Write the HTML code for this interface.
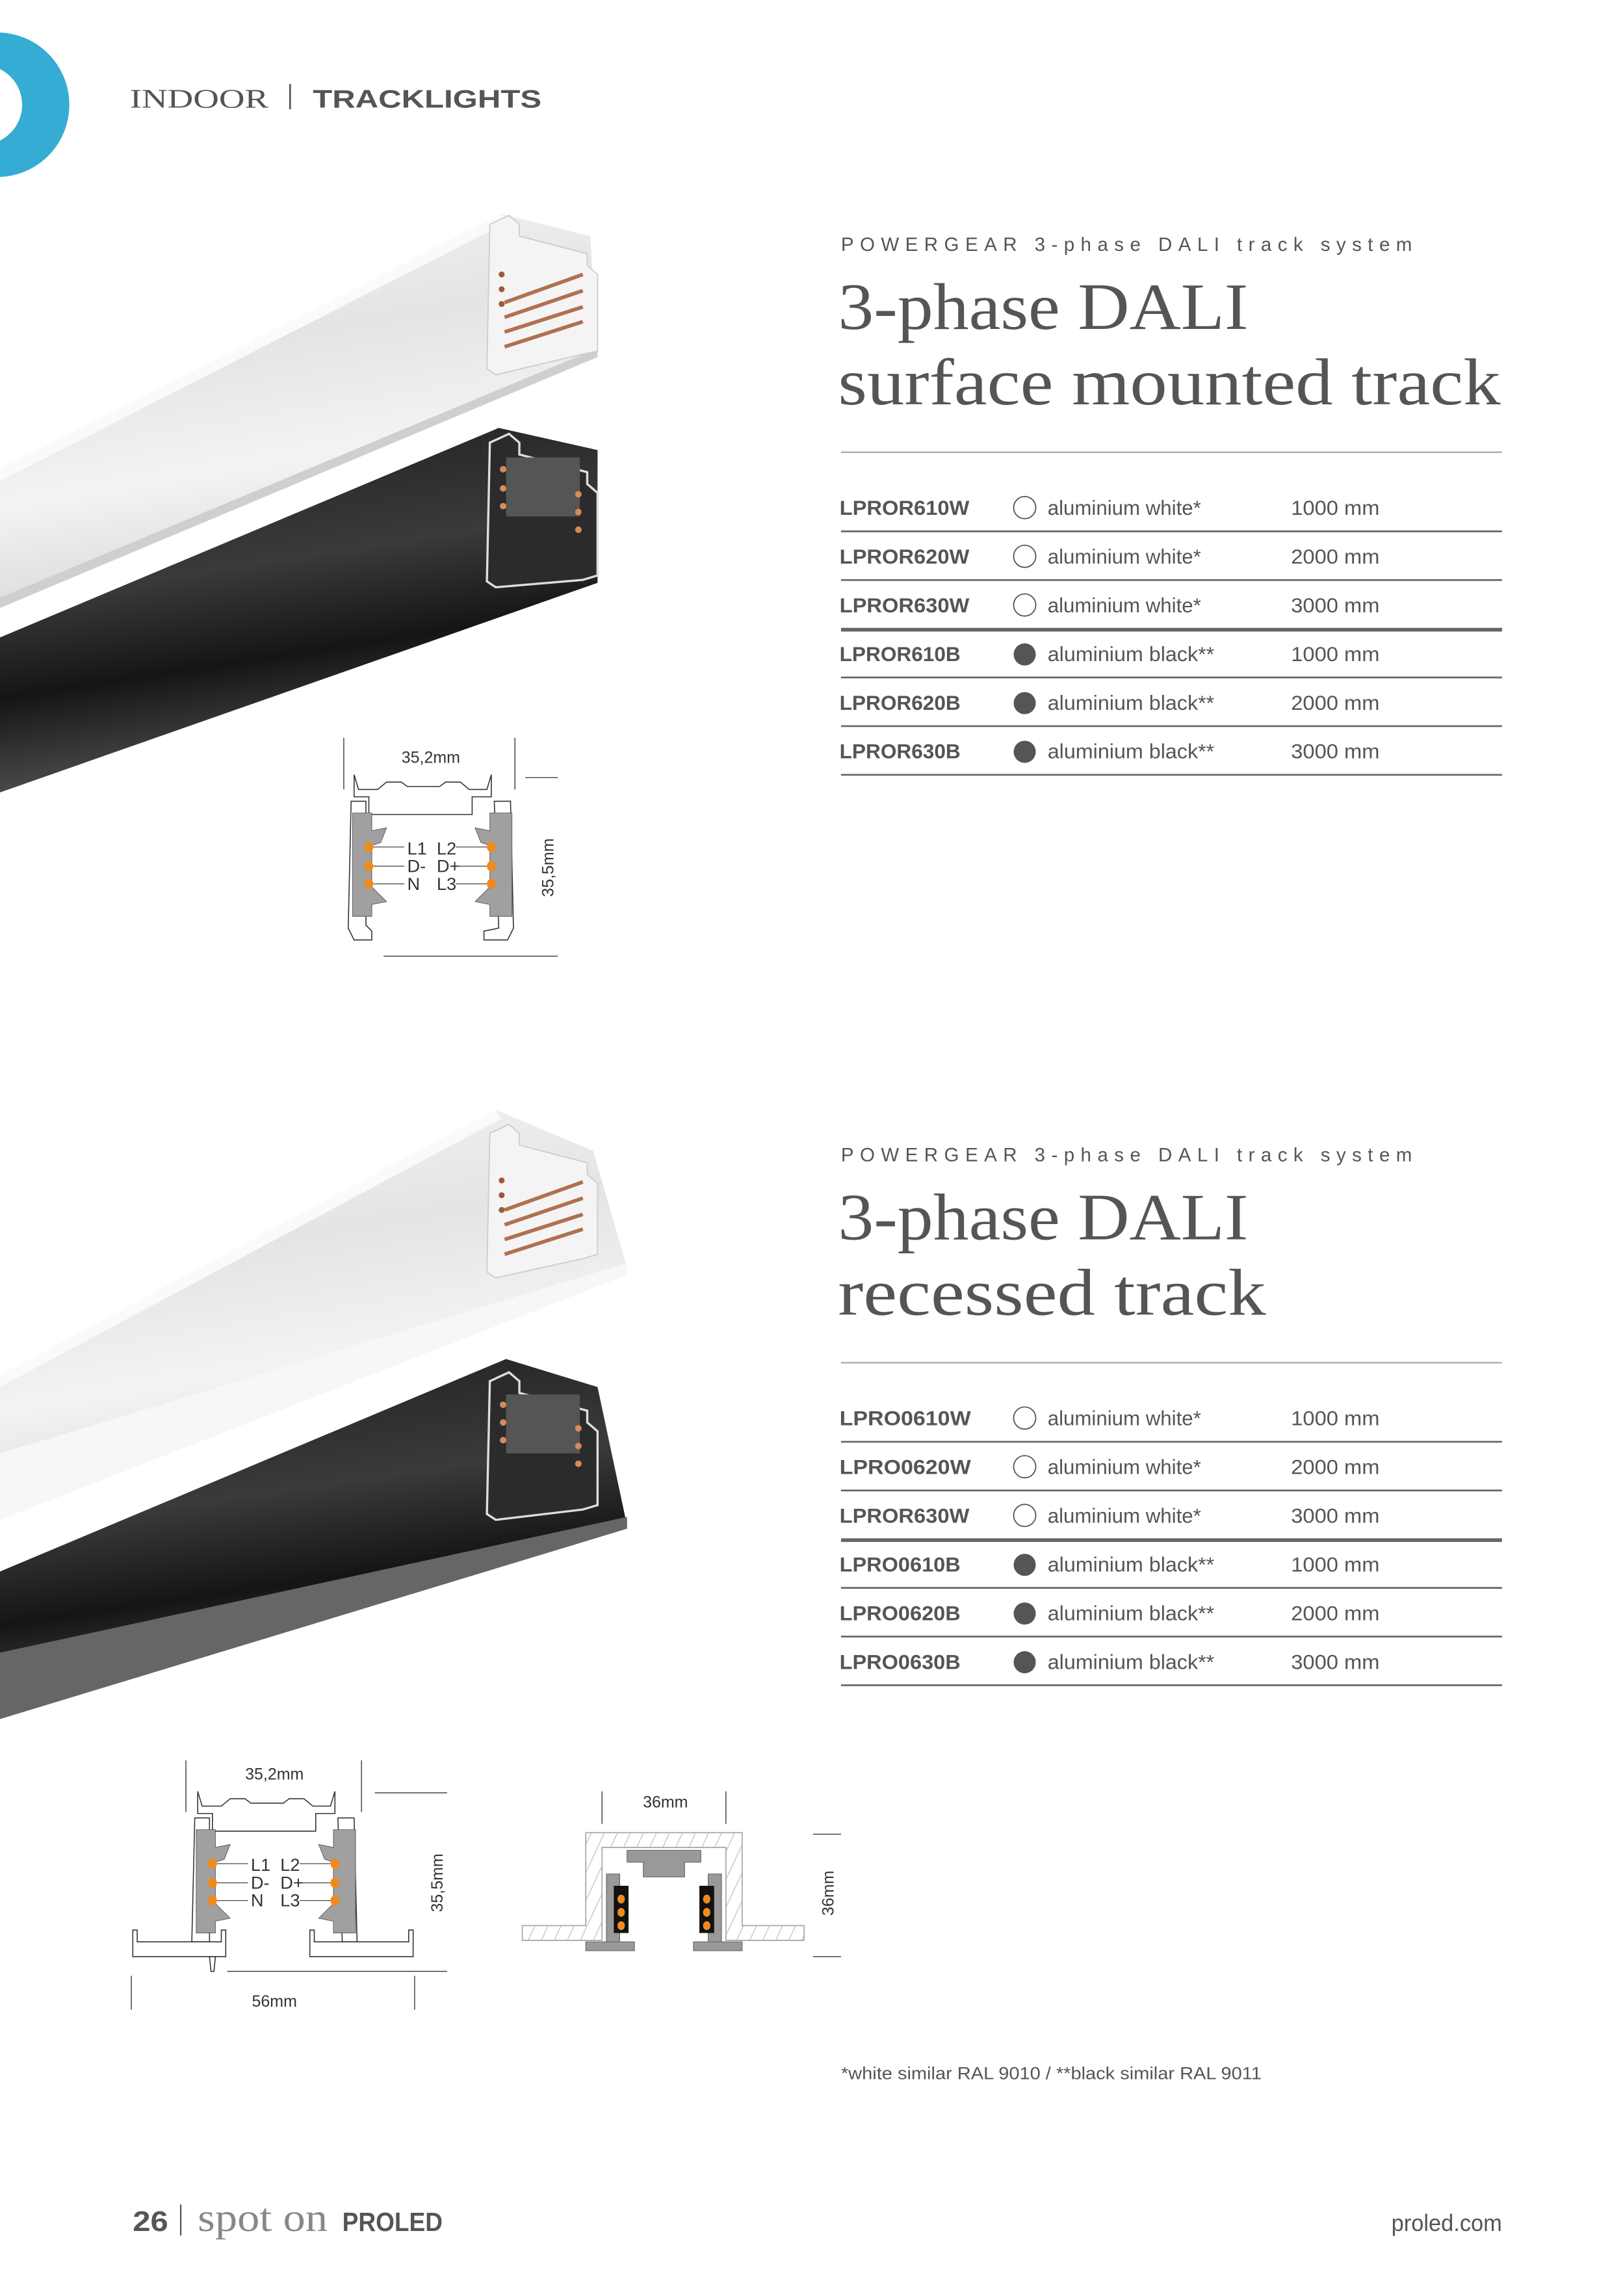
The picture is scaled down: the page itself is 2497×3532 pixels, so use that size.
<!DOCTYPE html>
<html><head><meta charset="utf-8"><style>
html,body{margin:0;padding:0;background:#fff;}
svg{display:block;}
</style></head><body>
<svg width="2497" height="3532" viewBox="0 0 1100 1556" preserveAspectRatio="none" xmlns="http://www.w3.org/2000/svg">
<defs>
<linearGradient id="wg" x1="0" y1="0" x2="0.25" y2="1">
<stop offset="0" stop-color="#f7f7f7"/><stop offset="0.4" stop-color="#e4e4e4"/><stop offset="0.7" stop-color="#f3f3f3"/><stop offset="1" stop-color="#d8d8d8"/></linearGradient>
<linearGradient id="bg" x1="0" y1="0" x2="0.25" y2="1">
<stop offset="0" stop-color="#1c1c1c"/><stop offset="0.45" stop-color="#3a3a3a"/><stop offset="0.7" stop-color="#151515"/><stop offset="1" stop-color="#555"/></linearGradient>
<pattern id="hatch" width="8" height="8" patternUnits="userSpaceOnUse" patternTransform="rotate(25)">
<rect width="8" height="8" fill="#fff"/><line x1="0" y1="0" x2="0" y2="8" stroke="#aaa" stroke-width="0.8"/></pattern>
</defs>

<!-- logo -->
<circle cx="-2" cy="71" r="49" fill="#35acd4"/>
<circle cx="-12" cy="71" r="27" fill="#fff"/>

<!-- header -->
<text x="88" y="73" font-family="Liberation Serif, serif" font-size="18" fill="#555" textLength="94" lengthAdjust="spacingAndGlyphs">INDOOR</text>
<rect x="196" y="57" width="1.2" height="17" fill="#555"/>
<text x="212" y="73" font-family="Liberation Sans, sans-serif" font-weight="bold" font-size="17" fill="#555" textLength="155" lengthAdjust="spacingAndGlyphs">TRACKLIGHTS</text>

<!-- ===== Section 1 tracks ===== -->
<polygon points="0,318 340,145 400,160 405,240 0,412" fill="url(#wg)"/>
<polygon points="0,318 340,145 345,150 0,326" fill="#fafafa"/>
<polygon points="0,405 405,236 405,242 0,412" fill="#cfcfcf"/>
<path d="M332,152 L345,146 L352,152 L352,160 L398,172 L398,180 L405,186 L405,238 L395,240 L336,254 L330,250 Z" fill="#f4f4f4" stroke="#ccc" stroke-width="0.8"/>
<g stroke="#b0714f" stroke-width="2.5"><line x1="342" y1="205" x2="395" y2="186"/><line x1="342" y1="215" x2="395" y2="197"/><line x1="342" y1="225" x2="395" y2="208"/><line x1="342" y1="235" x2="395" y2="218"/></g>
<g fill="#9a5a3a"><circle cx="340" cy="186" r="2"/><circle cx="340" cy="196" r="2"/><circle cx="340" cy="206" r="2"/></g>
<polygon points="0,432 338,290 405,305 405,395 0,537" fill="url(#bg)"/>
<path d="M332,300 L345,294 L352,300 L352,308 L398,320 L398,328 L405,334 L405,390 L395,393 L336,398 L330,394 Z" fill="#2b2b2b" stroke="#ddd" stroke-width="1.5"/>
<rect x="343" y="310" width="50" height="40" fill="#555"/>
<g fill="#d98a5a"><circle cx="341" cy="318" r="2.2"/><circle cx="341" cy="331" r="2.2"/><circle cx="341" cy="343" r="2.2"/><circle cx="392" cy="335" r="2.2"/><circle cx="392" cy="347" r="2.2"/><circle cx="392" cy="359" r="2.2"/></g>

<!-- ===== Section 1 text ===== -->
<text x="570" y="170" font-family="Liberation Sans, sans-serif" font-size="13" fill="#555" textLength="387" lengthAdjust="spacing">POWERGEAR 3-phase DALI track system</text>
<text x="568" y="223" font-family="Liberation Serif, serif" font-size="45" fill="#555" textLength="278" lengthAdjust="spacingAndGlyphs">3-phase DALI</text>
<text x="568" y="274" font-family="Liberation Serif, serif" font-size="45" fill="#555" textLength="449" lengthAdjust="spacingAndGlyphs">surface mounted track</text>
<rect x="570" y="306" width="448" height="1" fill="#aaa"/>

<g font-family="Liberation Sans, sans-serif" font-size="14" fill="#555">
<g font-weight="bold">
<text x="569" y="349" textLength="88" lengthAdjust="spacingAndGlyphs">LPROR610W</text>
<text x="569" y="382" textLength="88" lengthAdjust="spacingAndGlyphs">LPROR620W</text>
<text x="569" y="415" textLength="88" lengthAdjust="spacingAndGlyphs">LPROR630W</text>
<text x="569" y="448" textLength="82" lengthAdjust="spacingAndGlyphs">LPROR610B</text>
<text x="569" y="481" textLength="82" lengthAdjust="spacingAndGlyphs">LPROR620B</text>
<text x="569" y="514" textLength="82" lengthAdjust="spacingAndGlyphs">LPROR630B</text>
</g>
<text x="710" y="349" textLength="104" lengthAdjust="spacingAndGlyphs">aluminium white*</text>
<text x="710" y="382" textLength="104" lengthAdjust="spacingAndGlyphs">aluminium white*</text>
<text x="710" y="415" textLength="104" lengthAdjust="spacingAndGlyphs">aluminium white*</text>
<text x="710" y="448" textLength="113" lengthAdjust="spacingAndGlyphs">aluminium black**</text>
<text x="710" y="481" textLength="113" lengthAdjust="spacingAndGlyphs">aluminium black**</text>
<text x="710" y="514" textLength="113" lengthAdjust="spacingAndGlyphs">aluminium black**</text>
<text x="875" y="349" textLength="60" lengthAdjust="spacingAndGlyphs">1000 mm</text>
<text x="875" y="382" textLength="60" lengthAdjust="spacingAndGlyphs">2000 mm</text>
<text x="875" y="415" textLength="60" lengthAdjust="spacingAndGlyphs">3000 mm</text>
<text x="875" y="448" textLength="60" lengthAdjust="spacingAndGlyphs">1000 mm</text>
<text x="875" y="481" textLength="60" lengthAdjust="spacingAndGlyphs">2000 mm</text>
<text x="875" y="514" textLength="60" lengthAdjust="spacingAndGlyphs">3000 mm</text>
</g>
<g fill="none" stroke="#555" stroke-width="0.8"><circle cx="694.5" cy="344" r="7.5"/><circle cx="694.5" cy="377" r="7.5"/><circle cx="694.5" cy="410" r="7.5"/></g>
<g fill="#555"><circle cx="694.5" cy="443.5" r="7.5"/><circle cx="694.5" cy="476.5" r="7.5"/><circle cx="694.5" cy="509.5" r="7.5"/></g>
<g fill="#666"><rect x="570" y="359.5" width="448" height="1.2"/><rect x="570" y="392.5" width="448" height="1.2"/><rect x="570" y="425.5" width="448" height="2.5"/><rect x="570" y="458.5" width="448" height="1.2"/><rect x="570" y="491.5" width="448" height="1.2"/><rect x="570" y="524.5" width="448" height="1.2"/></g>

<!-- ===== Section 1 diagram ===== -->
<g stroke="#333" stroke-width="0.6">
<line x1="233" y1="500" x2="233" y2="535"/><line x1="349" y1="500" x2="349" y2="535"/>
<line x1="356" y1="527" x2="378" y2="527"/><line x1="260" y1="648" x2="378" y2="648"/>
</g>
<text x="292" y="517" text-anchor="middle" font-family="Liberation Sans, sans-serif" font-size="11" fill="#333">35,2mm</text>
<text transform="translate(375,588) rotate(-90)" text-anchor="middle" font-family="Liberation Sans, sans-serif" font-size="11" fill="#333">35,5mm</text>
<g transform="translate(106,-689)">
<g fill="#fff" stroke="#333" stroke-width="0.7">
<path d="M134,1214 L137,1224 L150,1224 L156,1219 L166,1219 L170,1222 L192,1222 L196,1219 L206,1219 L212,1224 L224,1224 L227,1214 L227,1229 L214,1229 L214,1241 L144,1241 L144,1229 L134,1229 Z"/>
<path d="M132,1232 L142,1232 L142,1316 L146,1320 L146,1326 L134,1326 L130,1318 Z"/>
<path d="M229,1232 L240,1232 L242,1318 L238,1326 L222,1326 L222,1320 L232,1318 Z"/>
</g>
<g fill="#a0a0a0" stroke="#555" stroke-width="0.4">
<path d="M133,1240 L146,1240 L146,1252 L156,1250 L152,1260 L146,1262 L146,1290 L156,1300 L146,1302 L146,1310 L133,1310 Z"/>
<path d="M241,1240 L226,1240 L226,1252 L216,1250 L220,1260 L226,1262 L226,1290 L216,1300 L226,1302 L226,1310 L241,1310 Z"/>
</g>
<g stroke="#333" stroke-width="0.5"><line x1="147" y1="1263" x2="168" y2="1263"/><line x1="147" y1="1276" x2="168" y2="1276"/><line x1="147" y1="1288" x2="168" y2="1288"/><line x1="203" y1="1263" x2="224" y2="1263"/><line x1="205" y1="1276" x2="224" y2="1276"/><line x1="203" y1="1288" x2="224" y2="1288"/></g>
<g fill="#f08a1c"><ellipse cx="144" cy="1263" rx="3" ry="3.5"/><ellipse cx="144" cy="1276" rx="3" ry="3.5"/><ellipse cx="144" cy="1288" rx="3" ry="3.5"/><ellipse cx="227" cy="1263" rx="3" ry="3.5"/><ellipse cx="227" cy="1276" rx="3" ry="3.5"/><ellipse cx="227" cy="1288" rx="3" ry="3.5"/></g>
<g font-family="Liberation Sans, sans-serif" font-size="12" fill="#333">
<text x="170" y="1268">L1</text><text x="170" y="1280">D-</text><text x="170" y="1292">N</text>
<text x="190" y="1268">L2</text><text x="190" y="1280">D+</text><text x="190" y="1292">L3</text>
</g>
</g>

<!-- ===== Section 2 tracks ===== -->
<polygon points="0,932 336,752 402,780 425,859 0,1027" fill="url(#wg)"/>
<polygon points="0,932 336,752 340,758 0,940" fill="#fafafa"/>
<polygon points="0,985 425,856 425,864 0,1030" fill="#f7f7f7"/>
<path d="M332,768 L345,762 L352,768 L352,776 L398,788 L398,796 L405,802 L405,850 L395,853 L336,866 L330,862 Z" fill="#f4f4f4" stroke="#ccc" stroke-width="0.8"/>
<g stroke="#b0714f" stroke-width="2.5"><line x1="342" y1="820" x2="395" y2="801"/><line x1="342" y1="830" x2="395" y2="812"/><line x1="342" y1="840" x2="395" y2="823"/><line x1="342" y1="850" x2="395" y2="833"/></g>
<g fill="#9a5a3a"><circle cx="340" cy="800" r="2"/><circle cx="340" cy="810" r="2"/><circle cx="340" cy="820" r="2"/></g>
<polygon points="0,1065 343,921 405,940 425,1034 0,1164" fill="url(#bg)"/>
<polygon points="0,1120 425,1028 425,1036 0,1165" fill="#666"/>
<path d="M332,936 L345,930 L352,936 L352,944 L398,956 L398,964 L405,970 L405,1020 L395,1023 L336,1030 L330,1026 Z" fill="#2b2b2b" stroke="#ddd" stroke-width="1.5"/>
<rect x="343" y="945" width="50" height="40" fill="#555"/>
<g fill="#d98a5a"><circle cx="341" cy="952" r="2.2"/><circle cx="341" cy="964" r="2.2"/><circle cx="341" cy="976" r="2.2"/><circle cx="392" cy="968" r="2.2"/><circle cx="392" cy="980" r="2.2"/><circle cx="392" cy="992" r="2.2"/></g>

<!-- ===== Section 2 text ===== -->
<text x="570" y="787" font-family="Liberation Sans, sans-serif" font-size="13" fill="#555" textLength="387" lengthAdjust="spacing">POWERGEAR 3-phase DALI track system</text>
<text x="568" y="840" font-family="Liberation Serif, serif" font-size="45" fill="#555" textLength="278" lengthAdjust="spacingAndGlyphs">3-phase DALI</text>
<text x="568" y="891" font-family="Liberation Serif, serif" font-size="45" fill="#555" textLength="290" lengthAdjust="spacingAndGlyphs">recessed track</text>
<rect x="570" y="923" width="448" height="1" fill="#aaa"/>

<g font-family="Liberation Sans, sans-serif" font-size="14" fill="#555">
<g font-weight="bold">
<text x="569" y="966" textLength="89" lengthAdjust="spacingAndGlyphs">LPRO0610W</text>
<text x="569" y="999" textLength="89" lengthAdjust="spacingAndGlyphs">LPRO0620W</text>
<text x="569" y="1032" textLength="88" lengthAdjust="spacingAndGlyphs">LPROR630W</text>
<text x="569" y="1065" textLength="82" lengthAdjust="spacingAndGlyphs">LPRO0610B</text>
<text x="569" y="1098" textLength="82" lengthAdjust="spacingAndGlyphs">LPRO0620B</text>
<text x="569" y="1131" textLength="82" lengthAdjust="spacingAndGlyphs">LPRO0630B</text>
</g>
<text x="710" y="966" textLength="104" lengthAdjust="spacingAndGlyphs">aluminium white*</text>
<text x="710" y="999" textLength="104" lengthAdjust="spacingAndGlyphs">aluminium white*</text>
<text x="710" y="1032" textLength="104" lengthAdjust="spacingAndGlyphs">aluminium white*</text>
<text x="710" y="1065" textLength="113" lengthAdjust="spacingAndGlyphs">aluminium black**</text>
<text x="710" y="1098" textLength="113" lengthAdjust="spacingAndGlyphs">aluminium black**</text>
<text x="710" y="1131" textLength="113" lengthAdjust="spacingAndGlyphs">aluminium black**</text>
<text x="875" y="966" textLength="60" lengthAdjust="spacingAndGlyphs">1000 mm</text>
<text x="875" y="999" textLength="60" lengthAdjust="spacingAndGlyphs">2000 mm</text>
<text x="875" y="1032" textLength="60" lengthAdjust="spacingAndGlyphs">3000 mm</text>
<text x="875" y="1065" textLength="60" lengthAdjust="spacingAndGlyphs">1000 mm</text>
<text x="875" y="1098" textLength="60" lengthAdjust="spacingAndGlyphs">2000 mm</text>
<text x="875" y="1131" textLength="60" lengthAdjust="spacingAndGlyphs">3000 mm</text>
</g>
<g fill="none" stroke="#555" stroke-width="0.8"><circle cx="694.5" cy="961" r="7.5"/><circle cx="694.5" cy="994" r="7.5"/><circle cx="694.5" cy="1027" r="7.5"/></g>
<g fill="#555"><circle cx="694.5" cy="1060.5" r="7.5"/><circle cx="694.5" cy="1093.5" r="7.5"/><circle cx="694.5" cy="1126.5" r="7.5"/></g>
<g fill="#666"><rect x="570" y="976.5" width="448" height="1.2"/><rect x="570" y="1009.5" width="448" height="1.2"/><rect x="570" y="1042.5" width="448" height="2.5"/><rect x="570" y="1075.5" width="448" height="1.2"/><rect x="570" y="1108.5" width="448" height="1.2"/><rect x="570" y="1141.5" width="448" height="1.2"/></g>

<!-- ===== Section 2 left diagram ===== -->
<g stroke="#333" stroke-width="0.6">
<line x1="126" y1="1193" x2="126" y2="1228"/><line x1="245" y1="1193" x2="245" y2="1228"/>
<line x1="254" y1="1215" x2="303" y2="1215"/><line x1="154" y1="1336" x2="303" y2="1336"/>
<line x1="89" y1="1339" x2="89" y2="1362"/><line x1="281" y1="1339" x2="281" y2="1362"/>
</g>
<text x="186" y="1206" text-anchor="middle" font-family="Liberation Sans, sans-serif" font-size="11" fill="#333">35,2mm</text>
<text transform="translate(300,1276) rotate(-90)" text-anchor="middle" font-family="Liberation Sans, sans-serif" font-size="11" fill="#333">35,5mm</text>
<text x="186" y="1360" text-anchor="middle" font-family="Liberation Sans, sans-serif" font-size="11" fill="#333">56mm</text>
<g fill="#fff" stroke="#333" stroke-width="0.7">
<path d="M134,1214 L137,1224 L150,1224 L156,1219 L166,1219 L170,1222 L192,1222 L196,1219 L206,1219 L212,1224 L224,1224 L227,1214 L227,1229 L214,1229 L214,1241 L144,1241 L144,1229 L134,1229 Z"/>
<path d="M132,1232 L142,1232 L142,1316 L130,1316 Z"/>
<path d="M229,1232 L240,1232 L242,1316 L232,1316 Z"/>
<path d="M90,1308 L93,1308 L93,1316 L150,1316 L150,1308 L153,1308 L153,1326 L90,1326 Z"/>
<path d="M210,1308 L213,1308 L213,1316 L277,1316 L277,1308 L280,1308 L280,1326 L210,1326 Z"/>
<path d="M142,1326 L146,1326 L145,1336 L143,1336 Z"/>
</g>
<g fill="#a0a0a0" stroke="#555" stroke-width="0.4">
<path d="M133,1240 L146,1240 L146,1252 L156,1250 L152,1260 L146,1262 L146,1290 L156,1300 L146,1302 L146,1310 L133,1310 Z"/>
<path d="M241,1240 L226,1240 L226,1252 L216,1250 L220,1260 L226,1262 L226,1290 L216,1300 L226,1302 L226,1310 L241,1310 Z"/>
</g>
<g stroke="#333" stroke-width="0.5"><line x1="147" y1="1263" x2="168" y2="1263"/><line x1="147" y1="1276" x2="168" y2="1276"/><line x1="147" y1="1288" x2="168" y2="1288"/><line x1="203" y1="1263" x2="224" y2="1263"/><line x1="205" y1="1276" x2="224" y2="1276"/><line x1="203" y1="1288" x2="224" y2="1288"/></g>
<g fill="#f08a1c"><ellipse cx="144" cy="1263" rx="3" ry="3.5"/><ellipse cx="144" cy="1276" rx="3" ry="3.5"/><ellipse cx="144" cy="1288" rx="3" ry="3.5"/><ellipse cx="227" cy="1263" rx="3" ry="3.5"/><ellipse cx="227" cy="1276" rx="3" ry="3.5"/><ellipse cx="227" cy="1288" rx="3" ry="3.5"/></g>
<g font-family="Liberation Sans, sans-serif" font-size="12" fill="#333">
<text x="170" y="1268">L1</text><text x="170" y="1280">D-</text><text x="170" y="1292">N</text>
<text x="190" y="1268">L2</text><text x="190" y="1280">D+</text><text x="190" y="1292">L3</text>
</g>

<!-- ===== Section 2 right diagram ===== -->
<path d="M354,1305 L397,1305 L397,1242 L503,1242 L503,1305 L545,1305 L545,1315 L492,1315 L492,1252 L408,1252 L408,1315 L354,1315 Z" fill="url(#hatch)" stroke="#aaa" stroke-width="0.8"/>
<g stroke="#333" stroke-width="0.6">
<line x1="408" y1="1214" x2="408" y2="1236"/><line x1="492" y1="1214" x2="492" y2="1236"/>
<line x1="551" y1="1243" x2="570" y2="1243"/><line x1="551" y1="1326" x2="570" y2="1326"/>
</g>
<text x="451" y="1225" text-anchor="middle" font-family="Liberation Sans, sans-serif" font-size="11" fill="#333">36mm</text>
<text transform="translate(565,1283) rotate(-90)" text-anchor="middle" font-family="Liberation Sans, sans-serif" font-size="11" fill="#333">36mm</text>
<g fill="#999" stroke="#666" stroke-width="0.5">
<path d="M425,1254 L475,1254 L475,1262 L464,1262 L464,1272 L436,1272 L436,1262 L425,1262 Z"/>
<path d="M411,1270 L420,1270 L420,1318 L411,1318 Z"/>
<path d="M480,1270 L489,1270 L489,1318 L480,1318 Z"/>
<path d="M397,1316 L430,1316 L430,1322 L397,1322 Z"/>
<path d="M470,1316 L503,1316 L503,1322 L470,1322 Z"/>
</g>
<g fill="#111"><rect x="416" y="1278" width="10" height="32"/><rect x="474" y="1278" width="10" height="32"/></g>
<g fill="#f08a1c"><ellipse cx="421" cy="1287" rx="2.5" ry="3"/><ellipse cx="421" cy="1296" rx="2.5" ry="3"/><ellipse cx="421" cy="1305" rx="2.5" ry="3"/><ellipse cx="479" cy="1287" rx="2.5" ry="3"/><ellipse cx="479" cy="1296" rx="2.5" ry="3"/><ellipse cx="479" cy="1305" rx="2.5" ry="3"/></g>

<!-- footnote -->
<text x="570" y="1409" font-family="Liberation Sans, sans-serif" font-size="12" fill="#555" textLength="285" lengthAdjust="spacingAndGlyphs">*white similar RAL 9010 / **black similar RAL 9011</text>

<!-- footer -->
<text x="90" y="1512" font-family="Liberation Sans, sans-serif" font-weight="bold" font-size="19" fill="#555" textLength="24" lengthAdjust="spacingAndGlyphs">26</text>
<rect x="122" y="1494" width="1" height="21" fill="#555"/>
<text x="134" y="1512" font-family="Liberation Serif, serif" font-size="27" fill="#888" textLength="88" lengthAdjust="spacingAndGlyphs">spot on</text>
<text x="232" y="1512" font-family="Liberation Sans, sans-serif" font-weight="bold" font-size="18" fill="#555" textLength="68" lengthAdjust="spacingAndGlyphs">PROLED</text>
<text x="1018" y="1512" text-anchor="end" font-family="Liberation Sans, sans-serif" font-size="16" fill="#555" textLength="75" lengthAdjust="spacingAndGlyphs">proled.com</text>
</svg>
</body></html>
